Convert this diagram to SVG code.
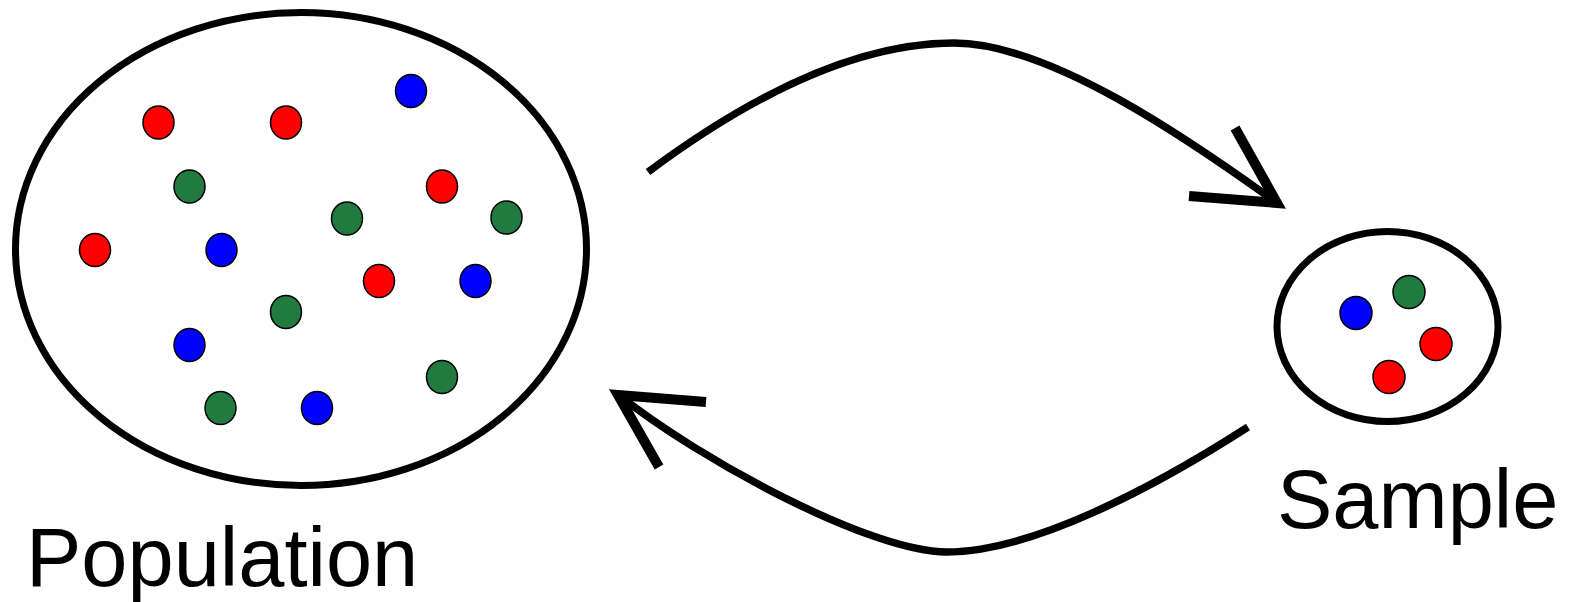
<svg xmlns="http://www.w3.org/2000/svg" width="1573" height="602" viewBox="0 0 1573 602">
<style>
.ring{fill:none;stroke:#000;stroke-width:7}
.dot{stroke:#000;stroke-width:1.5}
.r{fill:#ff0000}.b{fill:#0000ff}.g{fill:#217a40}
.shaft{fill:none;stroke:#000;stroke-width:7.5}
.barb{fill:none;stroke:#000;stroke-width:10;stroke-linejoin:miter}
.lbl{font-family:"Liberation Sans",Arial,sans-serif;font-size:83px;fill:#000}
</style>
<rect width="1573" height="602" fill="#fff"/>
<g id="population">
<ellipse class="ring" cx="301" cy="249" rx="285.5" ry="236.5"/>
<ellipse class="dot r" cx="158.5" cy="122.5" rx="15.5" ry="16.5"/>
<ellipse class="dot r" cx="286" cy="122.5" rx="15.5" ry="16.5"/>
<ellipse class="dot b" cx="411" cy="91" rx="15.5" ry="16.5"/>
<ellipse class="dot g" cx="189.5" cy="186.5" rx="15.5" ry="16.5"/>
<ellipse class="dot r" cx="442" cy="186.5" rx="15.5" ry="16.5"/>
<ellipse class="dot g" cx="347" cy="218.5" rx="15.5" ry="16.5"/>
<ellipse class="dot g" cx="506.5" cy="217.5" rx="15.5" ry="16.5"/>
<ellipse class="dot r" cx="95" cy="250" rx="15.5" ry="16.5"/>
<ellipse class="dot b" cx="221.5" cy="250" rx="15.5" ry="16.5"/>
<ellipse class="dot r" cx="379" cy="281" rx="15.5" ry="16.5"/>
<ellipse class="dot b" cx="475.5" cy="281" rx="15.5" ry="16.5"/>
<ellipse class="dot g" cx="286" cy="312" rx="15.5" ry="16.5"/>
<ellipse class="dot b" cx="189.5" cy="345" rx="15.5" ry="16.5"/>
<ellipse class="dot g" cx="442" cy="377" rx="15.5" ry="16.5"/>
<ellipse class="dot g" cx="220.5" cy="408" rx="15.5" ry="16.5"/>
<ellipse class="dot b" cx="317" cy="408" rx="15.5" ry="16.5"/>
<text class="lbl" x="26" y="586">Population</text>
</g>
<g id="sample">
<ellipse class="ring" cx="1387.5" cy="326.5" rx="110.5" ry="95"/>
<ellipse class="dot b" cx="1356" cy="313" rx="16" ry="16.5"/>
<ellipse class="dot g" cx="1409" cy="292" rx="16" ry="16.5"/>
<ellipse class="dot r" cx="1436" cy="344" rx="16" ry="16.5"/>
<ellipse class="dot r" cx="1389" cy="377" rx="16" ry="16.5"/>
<text class="lbl" x="1277" y="528">Sample</text>
</g>
<g id="connectors">
<path class="shaft" d="M648,172 Q821,43 954,43 C1050,43 1190,140 1280,205"/>
<path class="barb" d="M1235,128 L1277,203 L1189,196"/>
<path class="shaft" d="M1248,427 C1150,490 1030,552 947,552 C870,552 700,460 616,393"/>
<path class="barb" d="M706,402 L618,395 L659,467"/>
</g>
</svg>
